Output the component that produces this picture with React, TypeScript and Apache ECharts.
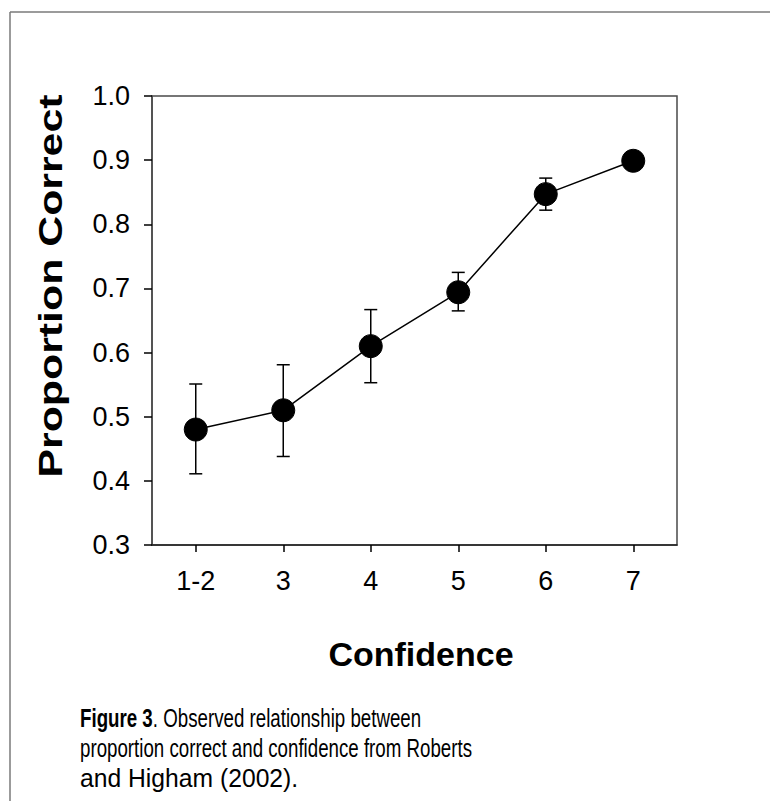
import React, { useEffect, useRef } from "react";
import * as echarts from "echarts";

const categories = ["1-2", "3", "4", "5", "6", "7"];
const proportionCorrect = [0.48, 0.51, 0.61, 0.694, 0.847, 0.899];
const errorLow = [0.411, 0.438, 0.553, 0.665, 0.822, null];
const errorHigh = [0.551, 0.581, 0.667, 0.725, 0.872, null];
const yTicks = [0.3, 0.4, 0.5, 0.6, 0.7, 0.8, 0.9, 1.0];
const captionLines = [
  "{b|Figure 3}. Observed relationship between",
  "proportion correct and confidence from Roberts",
  "and Higham (2002).",
];

const FONT = "Liberation Sans, Arial, Helvetica, sans-serif";

export default function App() {
  const ref = useRef<HTMLDivElement>(null);

  useEffect(() => {
    if (!ref.current) return;
    const chart = echarts.init(ref.current, null, { renderer: "svg" });

    const errData = categories
      .map((_, i) => [i, errorLow[i], errorHigh[i]])
      .filter((d) => d[1] != null && d[2] != null);

    const captionScale = [0.72, 0.72, 0.95];
    const captionGraphics = captionLines.map((t, i) => ({
      type: "text",
      x: 80,
      y: 718 + i * 30,
      scaleX: captionScale[i],
      style: {
        text: t,
        fontSize: 26,
        fontFamily: FONT,
        fill: "#000",
        textAlign: "left",
        textVerticalAlign: "middle",
        rich: {
          b: { fontSize: 26, fontWeight: "bold", fontFamily: FONT, fill: "#000" },
        },
      },
    }));

    const option: any = {
      animation: false,
      backgroundColor: "#ffffff",
      grid: {
        left: 152,
        top: 96,
        width: 525,
        height: 449,
        show: true,
        borderColor: "#4a4a4a",
        borderWidth: 1.5,
        backgroundColor: "transparent",
      },
      xAxis: {
        type: "category",
        data: categories,
        boundaryGap: true,
        axisLine: { show: true, lineStyle: { color: "#222", width: 1.5 } },
        axisTick: { show: true, alignWithLabel: true, length: 7, lineStyle: { color: "#000", width: 1.5 } },
        axisLabel: { color: "#000", fontSize: 27, fontFamily: FONT, margin: 22 },
        splitLine: { show: false },
      },
      yAxis: {
        type: "value",
        min: yTicks[0],
        max: yTicks[yTicks.length - 1],
        interval: 0.1,
        axisLine: { show: true, lineStyle: { color: "#4a4a4a", width: 1.5 } },
        axisTick: { show: true, length: 8, lineStyle: { color: "#000", width: 1.5 } },
        axisLabel: {
          color: "#000",
          fontSize: 27,
          fontFamily: FONT,
          margin: 22,
          formatter: (v: number) => v.toFixed(1),
        },
        splitLine: { show: false },
      },
      graphic: [
        {
          type: "line",
          shape: { x1: 10, y1: 12, x2: 770, y2: 12 },
          style: { stroke: "#7a7a7a", lineWidth: 1.5 },
        },
        {
          type: "line",
          shape: { x1: 10, y1: 12, x2: 10, y2: 801 },
          style: { stroke: "#7a7a7a", lineWidth: 1.5 },
        },
        {
          type: "text",
          x: 421,
          y: 654,
          style: {
            text: "Confidence",
            fontSize: 34,
            fontWeight: "bold",
            fontFamily: FONT,
            fill: "#000",
            textAlign: "center",
            textVerticalAlign: "middle",
          },
        },
        {
          type: "text",
          x: 50,
          y: 286,
          rotation: Math.PI / 2,
          scaleX: 1.26,
          style: {
            text: "Proportion Correct",
            fontSize: 34,
            fontWeight: "bold",
            fontFamily: FONT,
            fill: "#000",
            textAlign: "center",
            textVerticalAlign: "middle",
          },
        },
        ...captionGraphics,
      ],
      series: [
        {
          type: "custom",
          z: 2,
          data: errData,
          encode: { x: 0, y: [1, 2] },
          renderItem: (params: any, api: any) => {
            const x = api.value(0);
            const lo = api.coord([x, api.value(1)]);
            const hi = api.coord([x, api.value(2)]);
            const half = 6.5;
            const st = { stroke: "#000", lineWidth: 1.5 };
            return {
              type: "group",
              children: [
                { type: "line", shape: { x1: lo[0], y1: lo[1], x2: hi[0], y2: hi[1] }, style: st },
                { type: "line", shape: { x1: lo[0] - half, y1: lo[1], x2: lo[0] + half, y2: lo[1] }, style: st },
                { type: "line", shape: { x1: hi[0] - half, y1: hi[1], x2: hi[0] + half, y2: hi[1] }, style: st },
              ],
            };
          },
        },
        {
          type: "line",
          z: 3,
          data: proportionCorrect,
          symbol: "circle",
          symbolSize: 23,
          lineStyle: { color: "#000", width: 1.5 },
          itemStyle: { color: "#000", borderColor: "#000" },
        },
      ],
    };

    chart.setOption(option);
    return () => chart.dispose();
  }, []);

  return (
    <div
      ref={ref}
      style={{ position: "absolute", left: 0, top: 0, width: 770, height: 801 }}
    />
  );
}
